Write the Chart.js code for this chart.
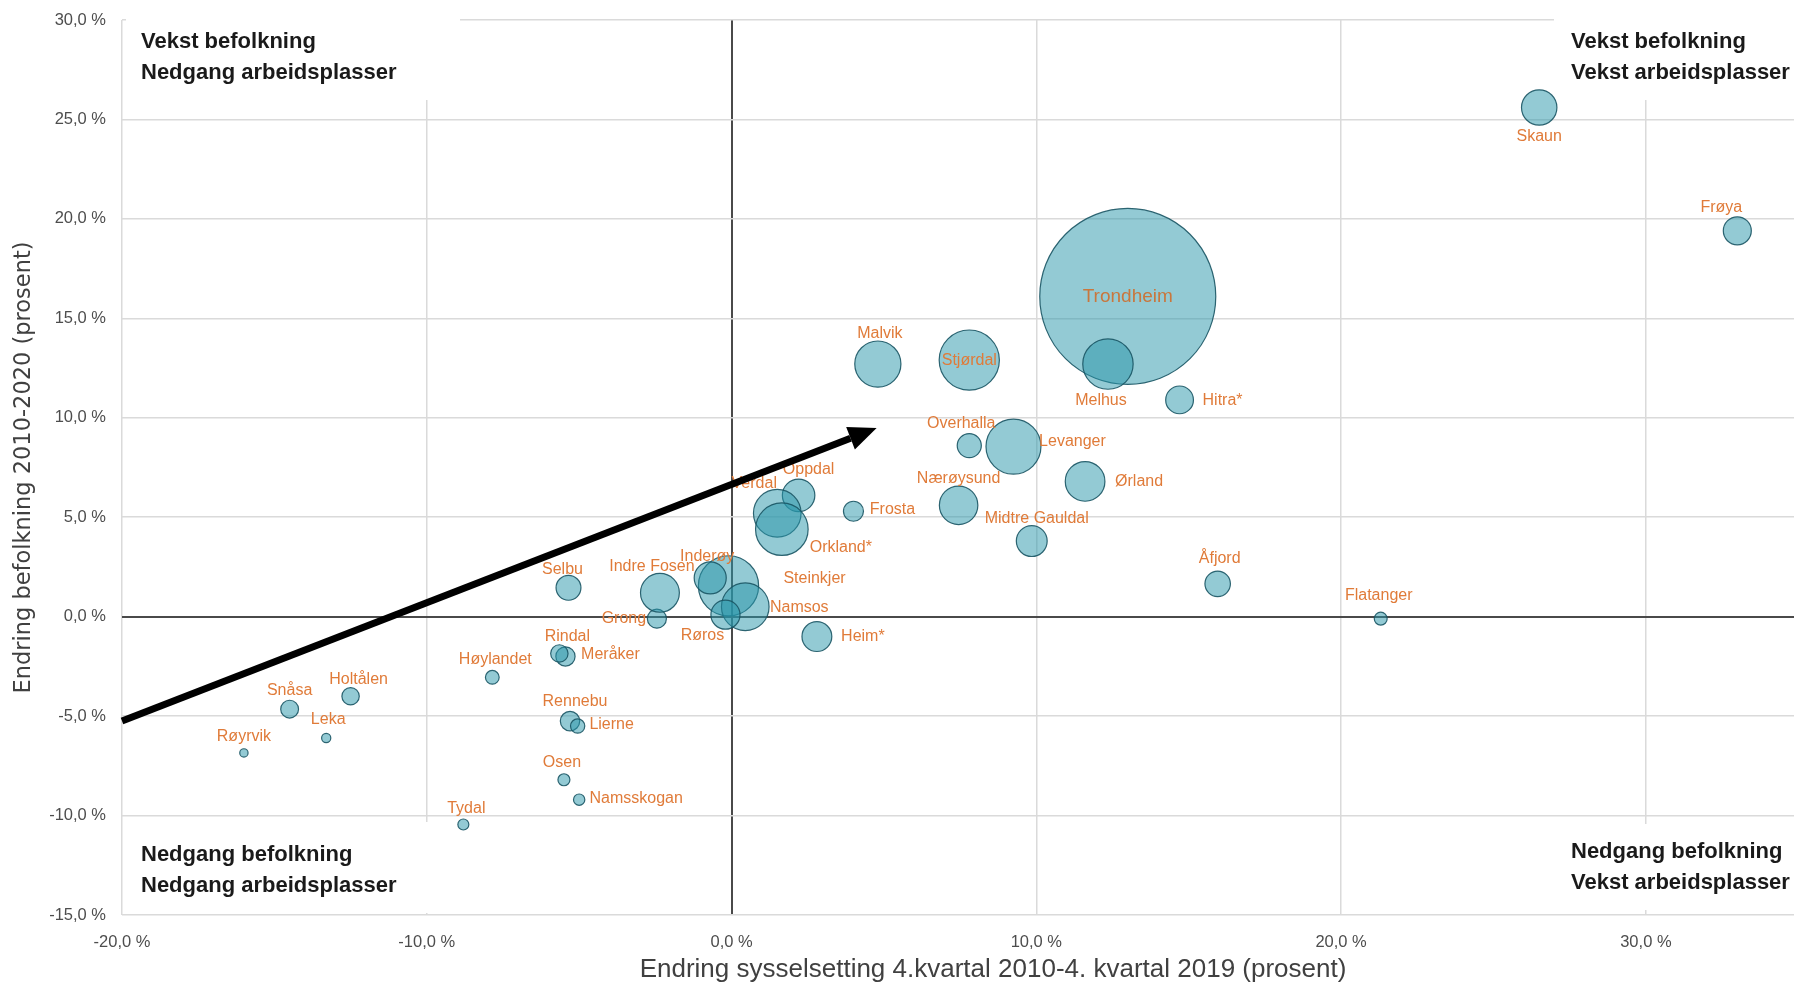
<!DOCTYPE html>
<html>
<head>
<meta charset="utf-8">
<script src="https://cdn.jsdelivr.net/npm/chart.js@4"></script>
<style>
  html, body { margin: 0; padding: 0; background: #fff; }
  #wrap { width: 1794px; height: 985px; position: relative; }
</style>
</head>
<body>
<div id="wrap"><canvas id="bubbleChart"></canvas></div>
<script>
// kommuner i Trøndelag
const kommuner = ['Trondheim', 'Steinkjer', 'Namsos', 'Frøya', 'Osen', 'Oppdal', 'Rennebu', 'Røros',
  'Holtålen', 'Midtre Gauldal', 'Melhus', 'Skaun', 'Malvik', 'Selbu', 'Tydal', 'Meråker', 'Stjørdal',
  'Frosta', 'Levanger', 'Verdal', 'Snåsa', 'Lierne', 'Røyrvik', 'Namsskogan', 'Grong', 'Høylandet',
  'Overhalla', 'Flatanger', 'Leka', 'Inderøy', 'Indre Fosen', 'Heim*', 'Hitra*', 'Ørland', 'Åfjord',
  'Orkland*', 'Nærøysund', 'Rindal'];

// endring sysselsetting 4.kv 2010 - 4.kv 2019 (%)
const sysselsetting = [13.0, -0.1, 0.45, 33.0, -5.5, 2.2, -5.3, -0.2,
  -12.5, 9.85, 12.35, 26.5, 4.8, -5.35, -8.8, -5.45, 7.8,
  4.0, 9.25, 1.5, -14.5, -5.05, -16.0, -5.0, -2.45, -7.85,
  7.8, 21.3, -13.3, -0.7, -2.35, 2.8, 14.7, 11.6, 15.95,
  1.65, 7.45, -5.65];

// endring befolkning 2010-2020 (%)
const befolkning = [16.1, 1.55, 0.5, 19.4, -8.2, 6.1, -5.25, 0.1,
  -4.0, 3.8, 12.7, 25.6, 12.7, 1.45, -10.45, -2.0, 12.9,
  5.3, 8.55, 5.2, -4.65, -5.5, -6.85, -9.2, -0.1, -3.05,
  8.6, -0.1, -6.1, 1.95, 1.2, -1.0, 10.9, 6.8, 1.65,
  4.4, 5.6, -1.85];

// innbyggere (boblestørrelse)
const innbyggere = [205000, 24000, 15000, 5200, 950, 7000, 2500, 5600,
  2000, 6300, 16800, 8300, 14100, 4100, 800, 2450, 24000,
  2650, 20000, 15000, 2100, 1350, 460, 850, 2400, 1250,
  3850, 1100, 560, 6800, 10000, 5900, 5100, 10400, 4300,
  18300, 9800, 2000];

// pil: fra / til (prosent)
const pilFra = [-20, -5.25];
const pilTil = [4.76, 9.48];

const xTittel = 'Endring sysselsetting 4.kvartal 2010-4. kvartal 2019 (prosent)';
const yTittel = 'Endring befolkning 2010-2020 (prosent)';

const kvadranter = [
  { linjer: ['Vekst befolkning', 'Nedgang arbeidsplasser'], boks: [126, 0, 334, 100], tekst: [141, 42] },
  { linjer: ['Vekst befolkning', 'Vekst arbeidsplasser'], boks: [1554, 0, 240, 100], tekst: [1571, 42] },
  { linjer: ['Nedgang befolkning', 'Nedgang arbeidsplasser'], boks: [126, 822, 317, 91], tekst: [141, 855] },
  { linjer: ['Nedgang befolkning', 'Vekst arbeidsplasser'], boks: [1554, 824, 240, 86], tekst: [1571, 852] }
];

// etikettplassering (px fra boblesenter)
const etikettPos = {
  'Skaun': [0, 29], 'Frøya': [-16, -23], 'Trondheim': [0, 0], 'Melhus': [-7, 37], 'Hitra*': [43, 1],
  'Malvik': [2, -30], 'Stjørdal': [0, 0], 'Overhalla': [-8, -22], 'Levanger': [59, -5], 'Ørland': [54, 0],
  'Nærøysund': [0, -27], 'Midtre Gauldal': [5, -22], 'Frosta': [39, -2], 'Oppdal': [10, -26],
  'Verdal': [-23, -30], 'Orkland*': [59, 18], 'Steinkjer': [86, -7], 'Inderøy': [-3, -21],
  'Namsos': [54, 1], 'Røros': [-23, 21], 'Indre Fosen': [-8, -26], 'Grong': [-33, 0], 'Heim*': [46, 0],
  'Selbu': [-6, -18], 'Rindal': [8, -17], 'Meråker': [45, -2], 'Høylandet': [3, -18], 'Holtålen': [8, -17],
  'Snåsa': [0, -19], 'Leka': [2, -18], 'Røyrvik': [0, -16], 'Rennebu': [5, -19], 'Lierne': [34, -1],
  'Osen': [-2, -17], 'Namsskogan': [57, -1], 'Tydal': [3, -16], 'Åfjord': [2, -25], 'Flatanger': [-2, -23]
};

const SANS = "'Liberation Sans', Arial, sans-serif";
const maxRadius = 88;

const punkter = kommuner.map((k, i) => ({
  x: sysselsetting[i],
  y: befolkning[i],
  r: maxRadius * Math.sqrt(innbyggere[i] / innbyggere[0])
}));

const prosent = v => v.toFixed(1).replace('.', ',') + ' %';

const kvadrantPlugin = {
  id: 'kvadranter',
  beforeDatasetsDraw(chart) {
    const ctx = chart.ctx;
    ctx.save();
    kvadranter.forEach(q => {
      ctx.fillStyle = '#ffffff';
      ctx.fillRect(q.boks[0], q.boks[1], q.boks[2], q.boks[3]);
      ctx.fillStyle = '#1a1a1a';
      ctx.font = 'bold 22px ' + SANS;
      ctx.textAlign = 'left';
      ctx.textBaseline = 'middle';
      q.linjer.forEach((l, j) => ctx.fillText(l, q.tekst[0], q.tekst[1] + j * 30.5));
    });
    // x-aksetittel, litt til høyre for midten som i originalen
    const ca = chart.chartArea;
    ctx.fillStyle = '#404040';
    ctx.font = '26px ' + SANS;
    ctx.textAlign = 'center';
    ctx.textBaseline = 'middle';
    ctx.fillText(xTittel, (ca.left + ca.right) / 2 + 35, 970);
    ctx.restore();
  }
};

const etikettPlugin = {
  id: 'etiketter',
  afterDatasetsDraw(chart) {
    const ctx = chart.ctx;
    const meta = chart.getDatasetMeta(0);
    ctx.save();
    ctx.textAlign = 'center';
    ctx.textBaseline = 'middle';
    meta.data.forEach((pt, i) => {
      const navn = kommuner[i];
      const off = etikettPos[navn] || [0, -20];
      ctx.font = (navn === 'Trondheim' ? '19px ' : '16px ') + SANS;
      ctx.fillStyle = navn === 'Trondheim' ? '#C9773D' : '#E07B39';
      ctx.fillText(navn, pt.x + off[0], pt.y + off[1]);
    });
    ctx.restore();
  }
};

const pilPlugin = {
  id: 'pil',
  afterDraw(chart) {
    const ctx = chart.ctx;
    const xs = chart.scales.x, ys = chart.scales.y;
    const x0 = xs.getPixelForValue(pilFra[0]), y0 = ys.getPixelForValue(pilFra[1]);
    const x1 = xs.getPixelForValue(pilTil[0]), y1 = ys.getPixelForValue(pilTil[1]);
    const a = Math.atan2(y1 - y0, x1 - x0);
    const len = 28, half = 12;
    const bx = x1 - len * Math.cos(a), by = y1 - len * Math.sin(a);
    ctx.save();
    ctx.strokeStyle = '#000';
    ctx.lineWidth = 7;
    ctx.beginPath();
    ctx.moveTo(x0, y0);
    ctx.lineTo(bx, by);
    ctx.stroke();
    ctx.fillStyle = '#000';
    ctx.beginPath();
    ctx.moveTo(x1, y1);
    ctx.lineTo(bx + half * Math.sin(a), by - half * Math.cos(a));
    ctx.lineTo(bx - half * Math.sin(a), by + half * Math.cos(a));
    ctx.closePath();
    ctx.fill();
    ctx.restore();
  }
};

const gridFarge = c => c.tick && c.tick.value === 0 ? '#4a4a4a' : '#dadada';
const gridBredde = c => c.tick && c.tick.value === 0 ? 2 : 1.5;

new Chart(document.getElementById('bubbleChart'), {
  type: 'bubble',
  data: {
    datasets: [{
      data: punkter,
      backgroundColor: 'rgba(40,150,170,0.5)',
      borderColor: 'rgba(25,85,100,0.9)',
      borderWidth: 1.2,
      clip: false
    }]
  },
  options: {
    responsive: true,
    maintainAspectRatio: false,
    animation: false,
    events: [],
    layout: { autoPadding: false, padding: { top: 20, right: 0, bottom: 0, left: 0 } },
    plugins: { legend: { display: false }, tooltip: { enabled: false } },
    scales: {
      x: {
        type: 'linear',
        min: -20,
        max: 34.86,
        border: { display: false },
        grid: { color: gridFarge, lineWidth: gridBredde, drawTicks: false },
        ticks: {
          stepSize: 10, includeBounds: false, padding: 18, color: '#4d4d4d',
          font: { family: SANS, size: 16.5 }, callback: prosent
        },
        afterFit(s) { s.height = 70; s.paddingLeft = 0; s.paddingRight = 0; }
      },
      y: {
        type: 'linear',
        min: -15,
        max: 30,
        border: { display: false },
        grid: { color: gridFarge, lineWidth: gridBredde, drawTicks: false },
        ticks: {
          stepSize: 5, padding: 16, color: '#4d4d4d',
          font: { family: SANS, size: 16.5 }, callback: prosent
        },
        title: {
          display: true,
          text: yTittel,
          color: '#404040',
          font: { family: "'DejaVu Sans', Verdana, sans-serif", size: 22.5 },
          padding: { top: 11, bottom: 0 }
        },
        afterFit(s) { s.width = 122; s.paddingTop = 0; s.paddingBottom = 0; }
      }
    }
  },
  plugins: [kvadrantPlugin, etikettPlugin, pilPlugin]
});
</script>
</body>
</html>
